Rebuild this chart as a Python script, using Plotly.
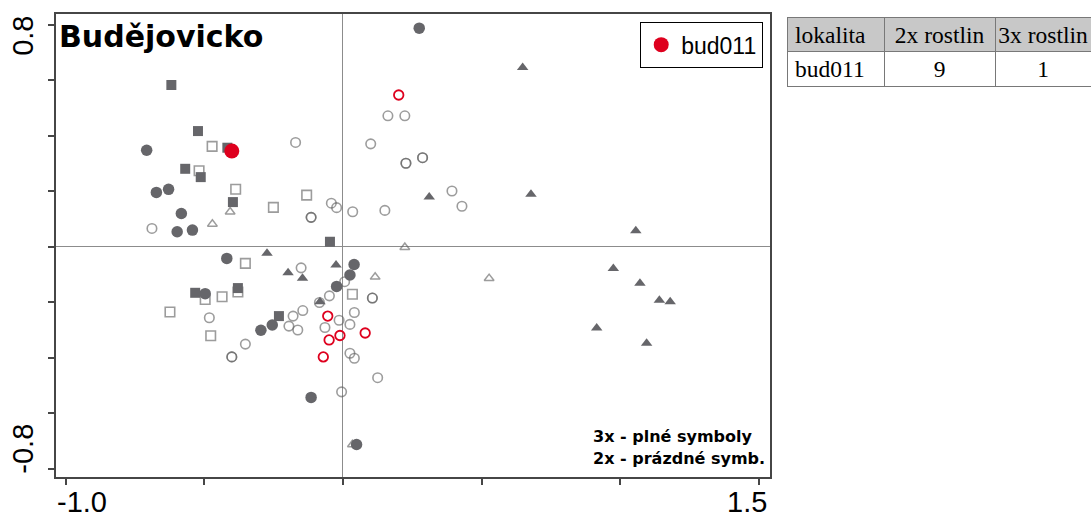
import plotly.graph_objects as go

# ---------------- data (CA scores) ----------------
circ3_x = [-0.708, -0.673, -0.629, -0.583, -0.598, -0.543, 0.275, -0.419, -0.497, -0.255,
           -0.296, -0.023, 0.025, 0.040, -0.115, 0.049]
circ3_y = [0.348, 0.196, 0.207, 0.120, 0.054, 0.060, 0.788, -0.042, -0.169, -0.282,
           -0.301, -0.143, -0.102, -0.064, -0.543, -0.713]

sq3_x = [-0.619, -0.523, -0.417, -0.569, -0.513, -0.397, -0.047, -0.533, -0.379, -0.231]
sq3_y = [0.583, 0.417, 0.357, 0.281, 0.251, 0.161, 0.018, -0.166, -0.149, -0.250]

tri3_x = [0.648, 0.311, 0.678, 1.056, 0.975, 1.071, 1.141, 1.180, 0.915, 1.095,
          -0.274, -0.198, -0.146, -0.025, -0.083]
tri3_y = [0.646, 0.179, 0.189, 0.058, -0.078, -0.132, -0.193, -0.198, -0.293, -0.348,
          -0.023, -0.094, -0.114, -0.066, -0.198]

circ2_x = [-0.689, -0.171, -0.115, -0.115, -0.042, -0.023, 0.035, 0.162, 0.223, 0.100,
           0.227, 0.227, 0.287, 0.287, 0.393, 0.429, 0.151, -0.151, 0.006, -0.049,
           -0.085, 0.106, 0.106, -0.145, -0.180, -0.014, 0.041, -0.065, 0.025, -0.195,
           -0.163, -0.482, -0.352, -0.401, -0.401, 0.025, 0.041, 0.125, -0.005]
circ2_y = [0.066, 0.376, 0.106, 0.106, 0.157, 0.141, 0.126, 0.472, 0.472, 0.371,
           0.301, 0.301, 0.321, 0.321, 0.201, 0.146, 0.131, -0.076, -0.126, -0.177,
           -0.201, -0.185, -0.185, -0.230, -0.250, -0.265, -0.237, -0.291, -0.280, -0.286,
           -0.300, -0.256, -0.351, -0.397, -0.397, -0.384, -0.402, -0.472, -0.523]

sq2_x = [-0.472, -0.519, -0.387, -0.251, -0.131, -0.352, -0.497, -0.436, -0.379, -0.624,
         -0.477, 0.034]
sq2_y = [0.362, 0.274, 0.207, 0.142, 0.186, -0.060, -0.190, -0.180, -0.163, -0.235,
         -0.321, -0.171]

tri2_x = [-0.407, -0.471, 0.223, 0.116, 0.527, 0.034]
tri2_y = [0.126, 0.082, -0.002, -0.109, -0.114, -0.713]

red3_x = [-0.401]
red3_y = [0.345]
red2_x = [0.201, -0.055, -0.050, -0.011, 0.080, -0.071]
red2_y = [0.547, -0.250, -0.336, -0.320, -0.311, -0.397]

table_cols = ["lokalita", "2x rostlin", "3x rostlin"]
table_row = ["bud011", "9", "1"]

x_ticks = [-1.0, -0.5, 0.0, 0.5, 1.0, 1.5]
y_ticks = [-0.8, -0.6, -0.4, -0.2, 0.0, 0.2, 0.4, 0.6, 0.8]
x_labels = {-1.0: "-1.0", 1.5: "1.5"}
y_labels = {0.8: "0.8", -0.8: "-0.8"}

# ---------------- styles ----------------
W, H = 1091, 520
GREY = "rgb(102,102,106)"
OPEN = "rgba(95,95,95,0.62)"
RED = "rgb(222,0,30)"

fig = go.Figure()

def add(x, y, symbol, size, color=None, line=None, lw=0, name="", legend=False):
    fig.add_trace(go.Scatter(
        x=x, y=y, mode="markers", name=name, showlegend=legend, hoverinfo="skip",
        marker=dict(symbol=symbol, size=size, color=color if color else "rgba(0,0,0,0)",
                    line=dict(color=line if line else "rgba(0,0,0,0)", width=lw)),
    ))

add(circ2_x, circ2_y, "circle-open", 9.5, color=OPEN, line=OPEN, lw=1.6)
add(sq2_x, sq2_y, "square-open", 9.5, color=OPEN, line=OPEN, lw=1.6)
add(tri2_x, tri2_y, "triangle-up-open", 8.5, color=OPEN, line=OPEN, lw=1.5)
add(circ3_x, circ3_y, "circle", 11.5, color=GREY)
add(sq3_x, sq3_y, "square", 10, color=GREY)
add(tri3_x, tri3_y, "triangle-up", 10, color=GREY)
add(red2_x, red2_y, "circle-open", 9.5, color=RED, line=RED, lw=1.8)
add(red3_x, red3_y, "circle", 15, color=RED, name="bud011", legend=True)

# table (non-breaking space keeps header on one line)
fig.add_trace(go.Table(
    domain=dict(x=[787 / W, 1.0], y=[0.0, 1 - 17 / H]),
    columnwidth=[97, 111, 96],
    header=dict(values=[c.replace(" ", "\u00a0") for c in table_cols],
                fill_color="rgb(200,200,200)",
                line=dict(color="rgb(120,120,120)", width=1),
                font=dict(family="Liberation Serif", size=23.5, color="black"),
                align=["left", "center", "center"], height=34),
    cells=dict(values=[[v] for v in table_row], fill_color="white",
               line=dict(color="rgb(120,120,120)", width=1),
               font=dict(family="Liberation Serif", size=23.5, color="black"),
               align=["left", "center", "center"], height=35),
))

x_dom = [56 / W, 770 / W]
y_dom = [1 - 477 / H, 1 - 14 / H]

axis_common = dict(showgrid=False, zeroline=True, zerolinecolor="rgb(140,140,140)",
                   zerolinewidth=1, showline=True, linecolor="rgb(70,70,70)", linewidth=1.8,
                   mirror=True, ticks="outside", ticklen=6, tickwidth=1.5,
                   tickcolor="rgb(70,70,70)", showticklabels=False, fixedrange=True)

fig.update_layout(
    width=W, height=H, margin=dict(l=0, r=0, t=0, b=0),
    paper_bgcolor="white", plot_bgcolor="white",
    xaxis=dict(range=[-1.035, 1.540], domain=x_dom, tickvals=x_ticks, **axis_common),
    yaxis=dict(range=[-0.830, 0.839], domain=y_dom, tickvals=y_ticks, **axis_common),
    legend=dict(x=763 / W, y=1 - 22 / H, xanchor="right", yanchor="top",
                bgcolor="white", bordercolor="black", borderwidth=1.2,
                font=dict(family="Liberation Sans", size=23, color="black")),
    showlegend=True,
)

ann = []
ann.append(dict(text="<b>Budějovicko</b>", xref="paper", yref="paper", x=57 / W, y=1 - 17 / H,
                xanchor="left", yanchor="top", showarrow=False,
                font=dict(family="DejaVu Sans", size=30, color="black")))
ann.append(dict(text="<b>3x - plné symboly</b>", xref="paper", yref="paper", x=591 / W, y=1 - 436 / H,
                xanchor="left", yanchor="middle", showarrow=False,
                font=dict(family="DejaVu Sans", size=16, color="black")))
ann.append(dict(text="<b>2x - prázdné symb.</b>", xref="paper", yref="paper", x=591 / W, y=1 - 458 / H,
                xanchor="left", yanchor="middle", showarrow=False,
                font=dict(family="DejaVu Sans", size=16, color="black")))
shift_x = {-1.0: 16, 1.5: -12}
for v, t in x_labels.items():
    ann.append(dict(text=t, xref="x", yref="paper", x=v, y=0, xshift=shift_x[v],
                    xanchor="center", yanchor="bottom", showarrow=False,
                    font=dict(family="Liberation Sans", size=29, color="black")))
shift_y = {0.8: -11, -0.8: 20}
for v, t in y_labels.items():
    ann.append(dict(text=t, xref="paper", yref="y", x=23 / W, y=v, yshift=shift_y[v],
                    xanchor="center", yanchor="middle", textangle=-90, showarrow=False,
                    font=dict(family="Liberation Sans", size=29, color="black")))
fig.update_layout(annotations=ann)

fig.write_html("out.html", config={"displayModeBar": False})
